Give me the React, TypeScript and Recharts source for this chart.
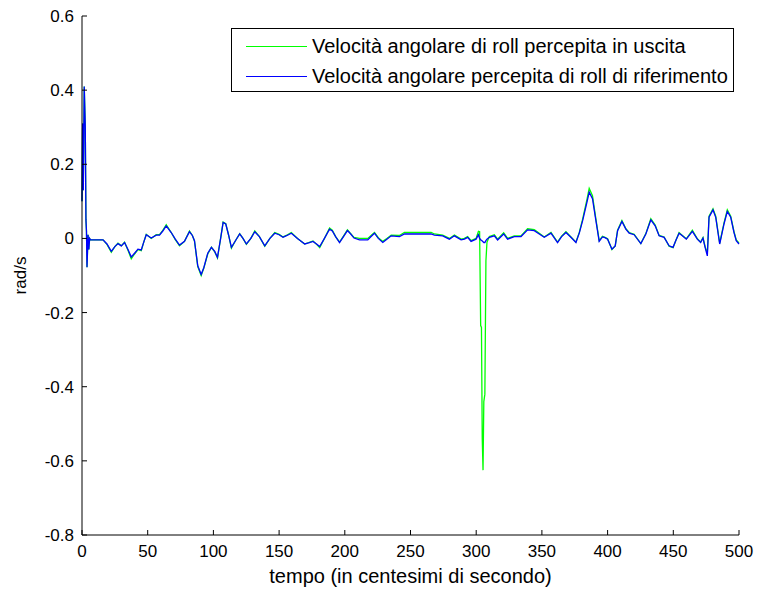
import React from 'react';
import { LineChart, Line, XAxis, YAxis, Legend } from 'recharts';

// campioni (centesimi di secondo)
const tempo = [
  0, 0.5, 1.0, 1.7, 2.5, 3.0, 3.4, 3.8, 4.6, 5.2,
  5.8, 6.5, 16, 19, 22.3, 25, 27.4, 29.9, 32.4, 35,
  37.5, 40, 42.6, 45.1, 47, 48.9, 52.7, 56.5, 59, 61.5,
  64.1, 67.9, 71, 74.2, 78, 81.8, 84, 85.6, 88.1, 90.7,
  92.7, 95.7, 98.5, 101, 103.1, 105.5, 107.4, 109.4, 111.5, 113.7,
  117, 120, 122.5, 125.1, 128.5, 131.5, 135, 139.1, 143, 146.7,
  150, 153, 156, 159.3, 164, 169.5, 172.5, 175.8, 178.5, 180.9,
  184.5, 188.4, 190.5, 193, 196, 199, 202, 204.5, 207, 211.2,
  217.5, 220, 222.6, 225.5, 228.9, 232, 235.3, 241.6, 245.4, 265.7,
  268.2, 274.5, 279.6, 283.4, 288.5, 291, 293.5, 296.1, 299.9, 301.7,
  302.6, 303.4, 304.0, 304.6, 305.2, 305.8, 306.6, 307.4, 308.2, 310,
  313.8, 316.3, 320.9, 323.9, 329, 334.1, 339.1, 344.2, 348, 351.8,
  356.9, 361.9, 365, 368.3, 372.1, 375.9, 378.5, 381, 384.3, 386,
  388.5, 391.1, 393.6, 396.1, 398, 400, 403.3, 405.8, 407.6, 410.9,
  413.9, 416.4, 420.2, 425.3, 429.1, 432.9, 436.2, 439.2, 443, 446.8,
  449.8, 452, 454.4, 456.9, 459.9, 464.5, 468.3, 470.8, 472.6, 474.2,
  475.9, 477.2, 480.2, 482.3, 485.3, 488.6, 491.1, 493.7, 496.2, 497.9, 500,
];

// velocità angolare di roll percepita di riferimento (rad/s)
const riferimento = [
  0.10, 0.31, 0.13, 0.41, 0.30, 0.05, 0.02, -0.078, 0.01, -0.03,
  0.0, -0.004, -0.004, -0.015, -0.035, -0.022, -0.014, -0.02, -0.011, -0.03,
  -0.05, -0.04, -0.029, -0.031, -0.01, 0.01, 0.001, 0.009, 0.009, 0.02,
  0.034, 0.016, -0.002, -0.018, -0.008, 0.018, 0.008, -0.006, -0.074, -0.097,
  -0.079, -0.04, -0.024, -0.035, -0.051, 0.0, 0.043, 0.039, 0.01, -0.024,
  -0.005, 0.012, 0.0, -0.015, 0.0, 0.018, 0.005, -0.02, 0.0, 0.014,
  0.01, 0.003, 0.008, 0.014, 0.0, -0.015, -0.012, -0.008, -0.015, -0.022,
  0.0, 0.025, 0.02, 0.005, -0.011, 0.005, 0.021, 0.012, 0.001, -0.004,
  -0.004, 0.005, 0.014, 0.0, -0.011, -0.002, 0.007, 0.005, 0.012, 0.012,
  0.009, 0.007, -0.002, 0.007, -0.004, -0.002, 0.003, -0.008, -0.002, 0.01,
  0.0, -0.004, -0.005, -0.007, -0.009, -0.011, -0.011, -0.006, -0.002, 0.003,
  0.007, -0.004, 0.012, -0.002, 0.005, 0.005, 0.023, 0.021, 0.012, 0.003,
  0.014, -0.011, 0.005, 0.016, 0.003, -0.011, 0.015, 0.048, 0.098, 0.125,
  0.107, 0.048, -0.008, 0.004, 0.002, -0.002, -0.029, -0.02, 0.021, 0.046,
  0.025, 0.014, 0.01, -0.014, 0.012, 0.05, 0.034, 0.007, 0.003, -0.02,
  -0.024, -0.005, 0.014, 0.007, -0.002, 0.019, -0.002, -0.011, 0.001, -0.024,
  -0.047, 0.057, 0.077, 0.057, -0.015, 0.039, 0.073, 0.057, 0.016, -0.006, -0.015,
];

// velocità angolare di roll percepita in uscita (rad/s)
const uscita = [
  0.10, 0.31, 0.13, 0.41, 0.30, 0.05, 0.02, -0.078, 0.01, -0.03,
  0.0, -0.004, -0.004, -0.016, -0.037, -0.022, -0.013, -0.02, -0.01, -0.032,
  -0.055, -0.042, -0.03, -0.033, -0.01, 0.011, 0.0, 0.01, 0.01, 0.022,
  0.037, 0.016, -0.003, -0.02, -0.008, 0.02, 0.008, -0.007, -0.076, -0.1,
  -0.08, -0.042, -0.024, -0.036, -0.053, 0.0, 0.044, 0.04, 0.01, -0.026,
  -0.005, 0.013, 0.0, -0.016, 0.0, 0.02, 0.005, -0.021, 0.0, 0.016,
  0.011, 0.004, 0.009, 0.016, 0.0, -0.015, -0.011, -0.007, -0.016, -0.025,
  0.0, 0.028, 0.022, 0.005, -0.01, 0.006, 0.023, 0.013, 0.003, 0.0,
  0.0, 0.008, 0.016, 0.002, -0.008, 0.0, 0.009, 0.008, 0.016, 0.016,
  0.012, 0.009, 0.0, 0.009, -0.002, 0.0, 0.005, -0.006, 0.0, 0.019,
  0.018, -0.235, -0.24, -0.54, -0.625, -0.44, -0.42, -0.06, -0.01, 0.005,
  0.01, -0.002, 0.015, 0.0, 0.007, 0.007, 0.026, 0.024, 0.014, 0.004,
  0.016, -0.01, 0.006, 0.018, 0.004, -0.01, 0.017, 0.052, 0.105, 0.135,
  0.115, 0.052, -0.006, 0.006, 0.003, -0.001, -0.03, -0.02, 0.022, 0.048,
  0.026, 0.016, 0.011, -0.014, 0.013, 0.053, 0.036, 0.008, 0.004, -0.021,
  -0.025, -0.005, 0.016, 0.008, -0.001, 0.022, -0.001, -0.01, 0.002, -0.022,
  -0.04, 0.06, 0.08, 0.06, -0.013, 0.042, 0.077, 0.06, 0.018, -0.004, -0.012,
];

const xTicks = [0, 50, 100, 150, 200, 250, 300, 350, 400, 450, 500];
const yTicks = [-0.8, -0.6, -0.4, -0.2, 0, 0.2, 0.4, 0.6];

const data = tempo.map((t, i) => ({ t, rif: riferimento[i], usc: uscita[i] }));

const FONT = '"Liberation Sans", Arial, sans-serif';
const tickStyle = { fontSize: 17, fontFamily: FONT, fill: '#000' };
const labelStyle = { fontSize: 20, fontFamily: FONT, fill: '#000' };

const legendItems = [
  { label: 'Velocità angolare di roll percepita in uscita', color: '#00ff00' },
  { label: 'Velocità angolare percepita di roll di riferimento', color: '#0000ff' },
];

const renderLegend = () => (
  <div
    style={{
      width: 501,
      height: 62,
      border: '1px solid #000',
      background: '#fff',
      fontFamily: FONT,
      fontSize: 20,
      color: '#000',
      boxSizing: 'content-box',
    }}
  >
    {legendItems.map((item) => (
      <div key={item.label} style={{ display: 'flex', alignItems: 'center', height: 26, marginTop: 4 }}>
        <div style={{ width: 61, height: 0, borderTop: `1.5px solid ${item.color}`, marginLeft: 14, marginRight: 5 }} />
        <span style={{ whiteSpace: 'nowrap' }}>{item.label}</span>
      </div>
    ))}
  </div>
);

export default function App() {
  return (
    <div style={{ position: 'absolute', left: 0, top: 0, background: '#fff' }}>
      <LineChart width={758} height={594} data={data} margin={{ top: 16, right: 19, bottom: 9, left: 14 }}>
        <XAxis
          dataKey="t"
          type="number"
          domain={[0, 500]}
          ticks={xTicks}
          height={50}
          tickSize={-5}
          tickMargin={15}
          tick={tickStyle}
          stroke="#000"
          interval={0}
          label={{ value: 'tempo (in centesimi di secondo)', position: 'insideBottom', offset: 2, style: labelStyle }}
        />
        <XAxis
          xAxisId="top"
          orientation="top"
          dataKey="t"
          type="number"
          domain={[0, 500]}
          ticks={xTicks}
          height={0}
          tickSize={-5}
          tickFormatter={() => ''}
          stroke="#000"
          interval={0}
        />
        <YAxis
          type="number"
          domain={[-0.8, 0.6]}
          ticks={yTicks}
          width={68}
          tickSize={-5}
          tickMargin={13}
          tick={tickStyle}
          stroke="#000"
          interval={0}
          label={{ value: 'rad/s', angle: -90, position: 'insideLeft', offset: 6, style: { ...tickStyle, textAnchor: 'middle' } }}
        />
        <YAxis
          yAxisId="right"
          orientation="right"
          type="number"
          domain={[-0.8, 0.6]}
          ticks={yTicks}
          width={0}
          tickSize={-5}
          tickFormatter={() => ''}
          stroke="#000"
          interval={0}
        />
        <Legend
          layout="vertical"
          align="center"
          verticalAlign="middle"
          content={renderLegend}
          wrapperStyle={{ left: 231, top: 28, width: 503, height: 64 }}
        />
        <Line type="linear" dataKey="usc" stroke="#00ff00" strokeWidth={1.3} dot={false} isAnimationActive={false} />
        <Line type="linear" dataKey="rif" stroke="#0000ff" strokeWidth={1.3} dot={false} isAnimationActive={false} />
      </LineChart>
    </div>
  );
}
